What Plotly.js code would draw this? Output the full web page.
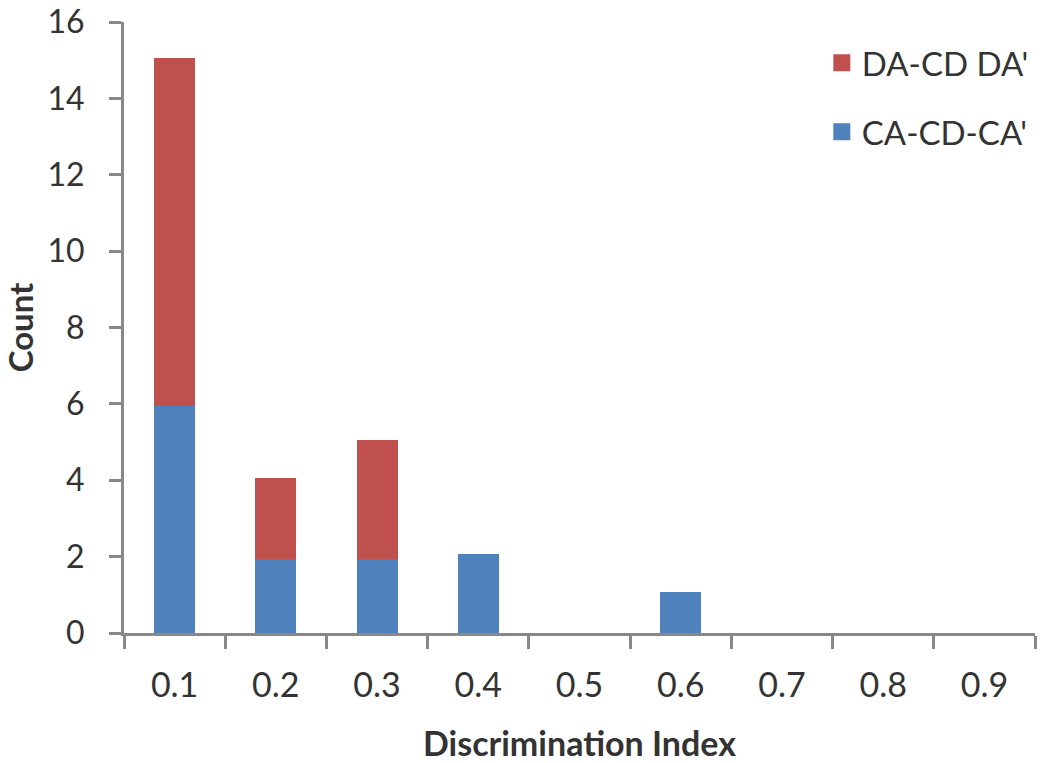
<!DOCTYPE html>
<html><head><meta charset="utf-8">
<script src="https://cdn.plot.ly/plotly-3.0.1.min.js"></script>
<style>body{margin:0;background:#fff}#c{width:1050px;height:763px}</style>
</head><body><div id="c"></div>
<script>
const categories = ["0.1","0.2","0.3","0.4","0.5","0.6","0.7","0.8","0.9"];
const caCdCa = [6, 2, 2, 2, 0, 1, 0, 0, 0];
const daCdDa = [9, 2, 3, 0, 0, 0, 0, 0, 0];
const yTicks = [0, 2, 4, 6, 8, 10, 12, 14, 16];

const font = "Lato, 'Open Sans', sans-serif";
const txt = "#333";
const nz = a => a.map(v => v === 0 ? null : v);
const traces = [
  {type:"bar", name:"CA-CD-CA'", x:categories, y:nz(caCdCa), width:0.355, legendgroup:"b", legendrank:2,
   marker:{color:"#4F81BD", line:{color:"#4F81BD", width:5}}},
  {type:"bar", name:"DA-CD DA'", x:categories, y:nz(daCdDa), width:0.355, legendgroup:"a", legendrank:1,
   marker:{color:"#C0504D", line:{color:"#C0504D", width:5}}}
];
const layout = {
  width:1050, height:763,
  margin:{l:124, r:15, t:22, b:130},
  barmode:"stack",
  paper_bgcolor:"#fff", plot_bgcolor:"#fff",
  font:{family:font, size:34, color:txt},
  showlegend:true,
  legend:{x:0.766, y:0.979, xanchor:"left", yanchor:"top", traceorder:"grouped", tracegroupgap:23,
          font:{family:font, size:33, color:txt}, bgcolor:"rgba(0,0,0,0)"},
  xaxis:{type:"category", categoryarray:categories, tickson:"boundaries", ticks:"outside", ticklen:13, tickwidth:3,
         tickcolor:"#888", showline:true, linecolor:"#888", linewidth:3, showgrid:false, zeroline:false,
         ticklabelstandoff:20, tickfont:{family:font, size:34, color:txt},
         title:{text:"<b>Discrimination Index</b>", font:{family:font, size:34, color:txt}, standoff:32}},
  yaxis:{range:[0,16.0001], tickvals:yTicks, ticks:"outside", ticklen:12, tickwidth:3, tickcolor:"#888",
         showline:true, linecolor:"#888", linewidth:3, showgrid:false, zeroline:false,
         ticklabelstandoff:18, ticklabeloverflow:"allow", tickfont:{family:font, size:32, color:txt},
         title:{text:"<b>Count</b>", font:{family:font, size:33, color:txt}, standoff:16}}
};
Plotly.newPlot("c", traces, layout, {staticPlot:true});
</script></body></html>
